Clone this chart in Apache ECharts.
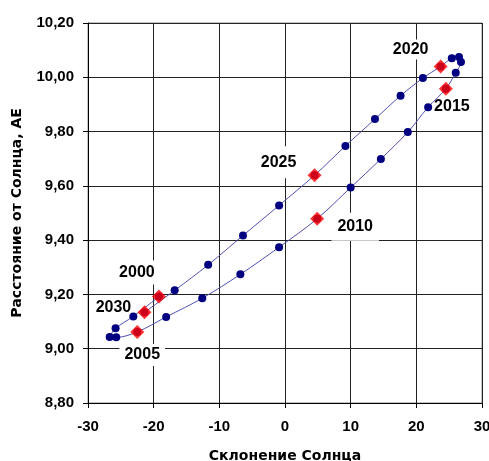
<!DOCTYPE html>
<html>
<head>
<meta charset="utf-8">
<script src="https://cdn.jsdelivr.net/npm/echarts@6/dist/echarts.min.js"></script>
<style>
html,body{margin:0;padding:0;background:#fff;}
#chart{width:489px;height:461px;}
</style>
</head>
<body>
<div id="chart"></div>
<script>
// Data: Sun's declination (x) and distance from the Sun, AU (y), yearly 2000-2030
const years = [2000,2001,2002,2003,2004,2005,2006,2007,2008,2009,2010,2011,2012,2013,2014,2015,2016,2017,2018,2019,2020,2021,2022,2023,2024,2025,2026,2027,2028,2029,2030];
const declination = [-19.2,-23.1,-25.8,-26.7,-25.7,-22.5,-18.1,-12.6,-6.8,-0.9,4.9,10.0,14.6,18.7,21.8,24.5,26.0,26.8,26.5,25.4,23.7,21.0,17.6,13.7,9.2,4.5,-0.9,-6.4,-11.7,-16.8,-21.4];
const distance = [9.192,9.119,9.075,9.043,9.042,9.062,9.117,9.186,9.274,9.374,9.479,9.594,9.699,9.798,9.890,9.958,10.017,10.056,10.075,10.070,10.040,9.997,9.932,9.846,9.747,9.639,9.528,9.417,9.309,9.215,9.134];
const markedYears = [2000,2005,2010,2015,2020,2025,2030];
const xTicks = {min:-30, max:30, step:10};
const yTicks = {min:8.8, max:10.2, step:0.2};

// label styling (offsets from marker centre in px)
const labelStyle = {
  2000: {offset:[-22,-24], padding:[4,5]},
  2005: {offset:[5,23], padding:[3,5]},
  2010: {offset:[38,8], padding:[2,6,10,6]},
  2015: {offset:[6,18], padding:[2,2]},
  2020: {offset:[-30,-17], padding:[2,3]},
  2025: {offset:[-36,-13], padding:[8,5]},
  2030: {offset:[-31,-5], padding:[1,1]}
};

const pts = years.map((y,i)=>[declination[i], distance[i]]);
const marked = markedYears.map(y=>{const i = years.indexOf(y); return {value:[declination[i], distance[i]], year:y};});

const FONT = '"Liberation Sans", Arial, sans-serif';
const TFONT = '"DejaVu Sans", Verdana, sans-serif';

const chart = echarts.init(document.getElementById('chart'), null, {renderer:'canvas'});
chart.setOption({
  animation:false,
  backgroundColor:'#fff',
  grid:{left:88, right:7, top:23, bottom:58, outerBoundsMode:'none', containLabel:false,
    show:true, borderColor:'#8a8a8a', borderWidth:1, backgroundColor:'transparent'},
  xAxis:{
    type:'value', min:xTicks.min, max:xTicks.max, interval:xTicks.step,
    name:'Склонение Солнца', nameLocation:'middle', nameGap:46,
    nameTextStyle:{fontFamily:TFONT, fontWeight:'bold', fontSize:14, color:'#000'},
    axisLine:{show:true, onZero:false, lineStyle:{color:'#000', width:1}},
    axisTick:{show:true, length:5, lineStyle:{color:'#000'}},
    axisLabel:{fontFamily:FONT, fontWeight:'bold', fontSize:15, color:'#000', margin:16},
    splitLine:{show:true, lineStyle:{color:'#222', width:1}}
  },
  yAxis:{
    type:'value', min:yTicks.min, max:yTicks.max, interval:yTicks.step,
    name:'Расстояние от Солнца, АЕ', nameLocation:'middle', nameGap:64,
    nameTextStyle:{fontFamily:TFONT, fontWeight:'bold', fontSize:14, color:'#000'},
    axisLine:{show:true, onZero:false, lineStyle:{color:'#000', width:1}},
    axisTick:{show:true, length:5, lineStyle:{color:'#000'}},
    axisLabel:{fontFamily:FONT, fontWeight:'bold', fontSize:15, color:'#000', margin:14,
      formatter:v=>v.toFixed(2).replace('.', ',')},
    splitLine:{show:true, lineStyle:{color:'#222', width:1}}
  },
  series:[
    {
      type:'scatter', z:1, silent:true,
      data: marked.map(m=>({
        value:m.value,
        label:{show:true, position:'inside', formatter:String(m.year),
          offset:labelStyle[m.year].offset, padding:labelStyle[m.year].padding,
          backgroundColor:'#fff', color:'#000', opacity:1, textBorderWidth:0, textBorderColor:'transparent',
          fontFamily:FONT, fontWeight:'bold', fontSize:16}
      })),
      symbol:'circle', symbolSize:0, itemStyle:{color:'#000'}
    },
    {
      type:'line', z:2, data:pts, smooth:0.35, showSymbol:true, showAllSymbol:true,
      symbol:'circle', symbolSize:8,
      itemStyle:{color:'#000080'},
      lineStyle:{color:'#5050b4', width:1}
    },
    {
      type:'scatter', z:3, data:marked.map(m=>m.value),
      symbol:'diamond', symbolSize:14,
      itemStyle:{color:'#ff0000'}
    }
  ]
});
</script>
</body>
</html>
